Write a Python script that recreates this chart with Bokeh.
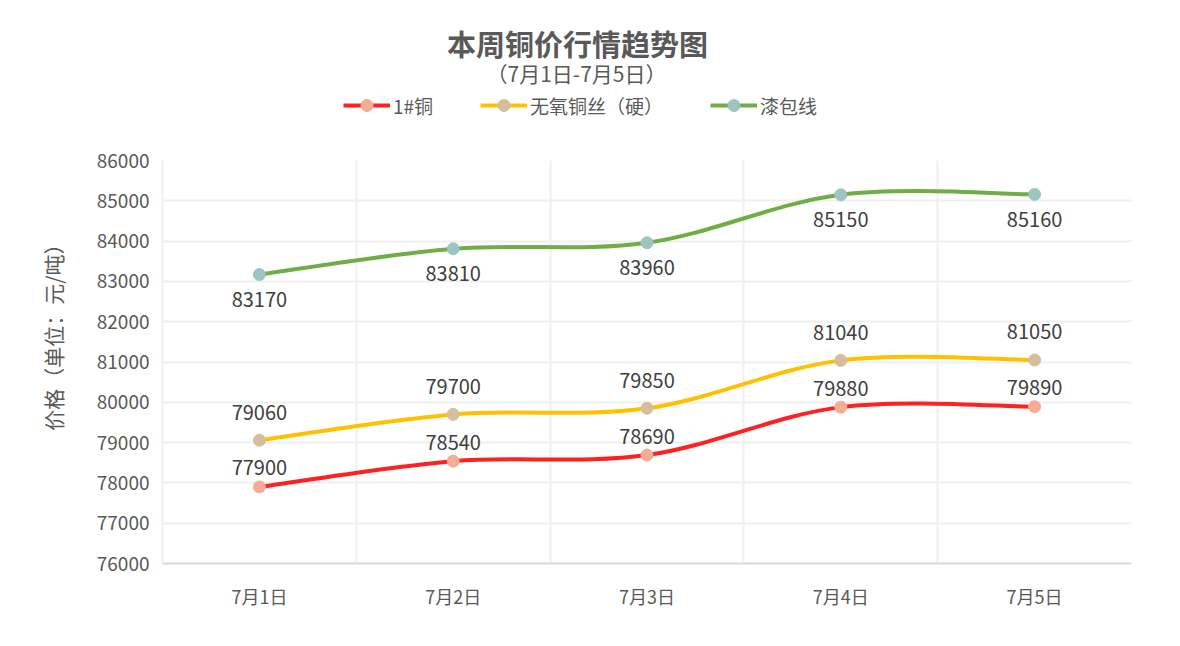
from bokeh.plotting import figure
from bokeh.layouts import column
from bokeh.models import ColumnDataSource, Range1d, FixedTicker, Legend, LegendItem, Label, Title
from bokeh.core.properties import value
from bokeh.embed import file_html
from bokeh.resources import INLINE

categories = ["7月1日", "7月2日", "7月3日", "7月4日", "7月5日"]
copy_no1 = [77900, 78540, 78690, 79880, 79890]
oxygen_free_wire = [79060, 79700, 79850, 81040, 81050]
enameled_wire = [83170, 83810, 83960, 85150, 85160]
series_names = ["1#铜", "无氧铜丝（硬）", "漆包线"]
y_ticks = list(range(76000, 86001, 1000))
title_text = "本周铜价行情趋势图"
subtitle_text = "（7月1日-7月5日）"
y_title = "价格（单位：元/吨）"

FONT = "Noto Sans CJK SC"
TXT = "#595959"

line_colors = ["#FF2121", "#FFC000", "#70AD47"]
marker_colors = ["#F4AC95", "#D4BE9E", "#9DC4C0"]
label_offsets = [-19, -28, 25]
all_series = [copy_no1, oxygen_free_wire, enameled_wire]

xs = [i + 0.5 for i in range(len(categories))]

BL, BR = 162, 49
W = 1180

# ---------- header (title, subtitle, legend) ----------
HH = 140
h = figure(width=W, height=HH, output_backend="svg", toolbar_location=None,
           x_range=Range1d(BL, W - BR), y_range=Range1d(HH, 0),
           x_axis_type=None, y_axis_type=None,
           min_border_left=BL, min_border_right=BR, min_border_top=0, min_border_bottom=0)
h.outline_line_color = None
h.xgrid.visible = False
h.ygrid.visible = False
h.add_layout(Label(x=577, y=42, text=title_text, text_align="center", text_baseline="middle",
                   text_font=FONT, text_font_size="29px", text_font_style="bold",
                   text_color=TXT))
h.add_layout(Label(x=576, y=72, text=subtitle_text, text_align="center", text_baseline="middle",
                   text_font=FONT, text_font_size="21px", text_color=TXT))
items = []
for name, ys, lc, mc in zip(series_names, all_series, line_colors, marker_colors):
    # data lies far outside the header's ranges, so only the legend swatch shows
    lr = h.line(x=xs, y=ys, line_color=lc, line_width=4)
    cr = h.scatter(x=xs, y=ys, size=12, fill_color=mc, line_color=mc)
    items.append(LegendItem(label=name, renderers=[lr, cr]))
legend = Legend(items=items, orientation="horizontal", location=(181, 20),
                glyph_width=47, glyph_height=30, label_standoff=3, spacing=47,
                padding=0, margin=0, background_fill_alpha=0, border_line_alpha=0,
                label_text_font=FONT, label_text_font_size="19px", label_text_color=TXT)
h.add_layout(legend, "center")

# ---------- main chart ----------
p = figure(width=W, height=646 - HH, output_backend="svg", toolbar_location=None,
           x_range=Range1d(0, len(categories)), y_range=Range1d(y_ticks[0], y_ticks[-1]),
           min_border_left=BL, min_border_right=BR, min_border_top=20, min_border_bottom=83)
p.outline_line_color = None
p.background_fill_color = "white"

p.xaxis.ticker = FixedTicker(ticks=xs)
p.xaxis.major_label_overrides = {x: c for x, c in zip(xs, categories)}
p.xgrid.ticker = FixedTicker(ticks=list(range(len(categories) + 1)))
p.yaxis.ticker = FixedTicker(ticks=y_ticks)
for g in (p.xgrid, p.ygrid):
    g.grid_line_color = "#EFEFEF"
    g.grid_line_width = 2
p.xaxis.axis_line_color = "#D9D9D9"
p.xaxis.axis_line_width = 2
p.yaxis.axis_line_color = "#EFEFEF"
p.yaxis.axis_line_width = 2
for ax in (p.xaxis, p.yaxis):
    ax.major_tick_line_color = None
    ax.minor_tick_line_color = None
    ax.major_label_text_font = FONT
    ax.major_label_text_color = TXT
p.xaxis.major_label_text_font_size = "18px"
p.yaxis.major_label_text_font_size = "19px"
p.xaxis.major_label_standoff = 13
p.yaxis.major_label_standoff = 7
p.add_layout(Title(text=y_title, align="right", offset=73, standoff=51,
                   text_font=FONT, text_font_size="21px", text_font_style="normal",
                   text_color=TXT), "left")

for ys, lc, mc, off in zip(all_series, line_colors, marker_colors, label_offsets):
    n = len(ys)
    x0, y0, x1, y1, cx0, cy0, cx1, cy1 = [], [], [], [], [], [], [], []
    for i in range(n - 1):
        a = i - 1 if i > 0 else i
        b = i + 2 if i + 2 < n else i + 1
        x0.append(xs[i]); y0.append(ys[i])
        x1.append(xs[i + 1]); y1.append(ys[i + 1])
        cx0.append(xs[i] + (xs[i + 1] - xs[a]) / 6)
        cy0.append(ys[i] + (ys[i + 1] - ys[a]) / 6)
        cx1.append(xs[i + 1] - (xs[b] - xs[i]) / 6)
        cy1.append(ys[i + 1] - (ys[b] - ys[i]) / 6)
    p.bezier(x0=x0, y0=y0, x1=x1, y1=y1, cx0=cx0, cy0=cy0, cx1=cx1, cy1=cy1,
             line_color=lc, line_width=4)
    src = ColumnDataSource(dict(x=xs, y=ys, t=[str(v) for v in ys]))
    p.scatter("x", "y", source=src, size=12, fill_color=mc, line_color=mc)
    p.text("x", "y", text="t", source=src, y_offset=off, text_align="center",
           text_baseline="middle", text_font=value(FONT), text_font_size="20px",
           text_color="#404040")

layout = column(h, p, spacing=0)
open("out.html", "w").write(file_html(layout, INLINE))
